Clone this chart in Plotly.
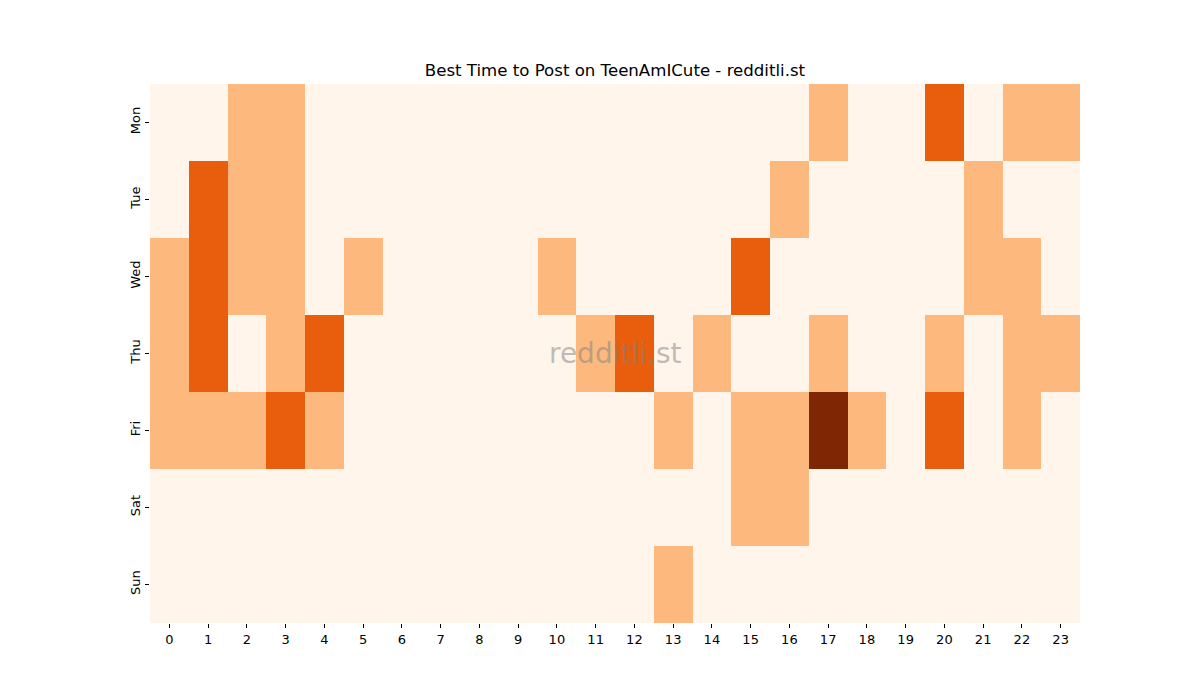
import plotly.graph_objects as go

days = ["Mon", "Tue", "Wed", "Thu", "Fri", "Sat", "Sun"]
hours = list(range(24))

mon = [0,0,1,1,0,0,0,0,0,0,0,0,0,0,0,0,0,1,0,0,2,0,1,1]
tue = [0,2,1,1,0,0,0,0,0,0,0,0,0,0,0,0,1,0,0,0,0,1,0,0]
wed = [1,2,1,1,0,1,0,0,0,0,1,0,0,0,0,2,0,0,0,0,0,1,1,0]
thu = [1,2,0,1,2,0,0,0,0,0,0,1,2,0,1,0,0,1,0,0,1,0,1,1]
fri = [1,1,1,2,1,0,0,0,0,0,0,0,0,1,0,1,1,3,1,0,2,0,1,0]
sat = [0,0,0,0,0,0,0,0,0,0,0,0,0,0,0,1,1,0,0,0,0,0,0,0]
sun = [0,0,0,0,0,0,0,0,0,0,0,0,0,1,0,0,0,0,0,0,0,0,0,0]
z = [mon, tue, wed, thu, fri, sat, sun]

colorscale = [
    [0.0, "#fff5eb"], [0.25, "#fff5eb"],
    [0.25, "#fdb97d"], [0.5, "#fdb97d"],
    [0.5, "#e95e0d"], [0.75, "#e95e0d"],
    [0.75, "#7f2704"], [1.0, "#7f2704"],
]

fig = go.Figure(go.Heatmap(
    z=z, x=hours, y=days, zmin=-0.5, zmax=3.5,
    colorscale=colorscale, showscale=False, xgap=0, ygap=0,
    hovertemplate="%{y} %{x}:00 — %{z}<extra></extra>",
))

fig.update_layout(
    width=1200, height=700,
    margin=dict(l=150, r=120, t=84, b=77),
    paper_bgcolor="white", plot_bgcolor="white",
    font=dict(family="DejaVu Sans", size=13, color="black"),
    title=dict(text="Best Time to Post on TeenAmICute - redditli.st",
               x=0.5125, xanchor="center", y=1 - 70/700, yanchor="middle",
               font=dict(size=16.6, color="black")),
    xaxis=dict(tickmode="array", tickvals=hours, ticktext=[str(h) for h in hours],
               ticks="outside", ticklen=4, tickcolor="black", showgrid=False,
               zeroline=False, showline=False, range=[-0.5, 23.5]),
    yaxis=dict(autorange="reversed", ticks="outside", ticklen=4, tickcolor="black",
               tickangle=-90, showgrid=False, zeroline=False, showline=False),
    annotations=[dict(text="redditli.st", x=0.5, y=0.5, xref="paper", yref="paper",
                      showarrow=False, font=dict(size=28, color="rgba(128,128,128,0.5)"))],
)

fig.write_html("out.html")
